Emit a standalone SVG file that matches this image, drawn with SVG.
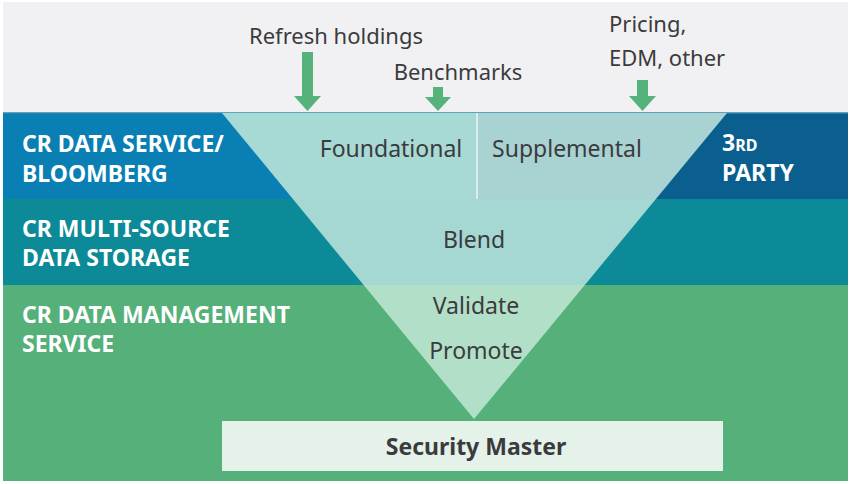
<svg xmlns="http://www.w3.org/2000/svg" width="850" height="484" viewBox="0 0 850 484">
<style>
.lbl{font-family:"Noto Sans","Open Sans","Liberation Sans",sans-serif;font-size:22px;fill:#3b3b3d;}
.fl{font-family:"Noto Sans","Open Sans","Liberation Sans",sans-serif;font-size:23px;fill:#3b3b3d;text-anchor:middle;}
.band{font-family:"Noto Sans","Open Sans","Liberation Sans",sans-serif;font-size:23px;font-weight:bold;fill:#ffffff;}
.sm{font-family:"Noto Sans","Open Sans","Liberation Sans",sans-serif;font-size:23px;font-weight:bold;fill:#3b3b3d;text-anchor:middle;}
.arrow{fill:#55b27a;}
</style>
<defs>
<clipPath id="funnel"><polygon points="222,113 727,113 474,419"/></clipPath>
</defs>
<rect x="0" y="0" width="850" height="484" fill="#ffffff"/>
<g id="background">
<rect x="3" y="2" width="845" height="111" fill="#f1f1f3"/>
<rect x="3" y="113" width="845" height="86" fill="#0a7fb4"/>
<rect x="600" y="113" width="248" height="86" fill="#0b5f8f"/>
<rect x="3" y="199" width="845" height="86" fill="#0d8a98"/>
<rect x="3" y="285" width="845" height="196" fill="#56b07a"/>
<line x1="3" y1="113" x2="848" y2="113" stroke="#2f86ad" stroke-width="1.5"/>
</g>
<g id="funnel-shape" clip-path="url(#funnel)">
<rect x="200" y="113" width="277" height="86" fill="#a7d9d5"/>
<rect x="477" y="113" width="260" height="86" fill="#a9d2d3"/>
<rect x="200" y="199" width="540" height="86" fill="#a6d8d3"/>
<rect x="200" y="285" width="540" height="140" fill="#b2dfc8"/>
<line x1="477" y1="113" x2="477" y2="199" stroke="#d9eeec" stroke-width="2"/>
</g>
<g id="band-labels">
<text class="band" x="22" y="152">CR DATA SERVICE/</text>
<text class="band" x="22" y="182">BLOOMBERG</text>
<text class="band" x="22" y="237">CR MULTI-SOURCE</text>
<text class="band" x="22" y="266">DATA STORAGE</text>
<text class="band" x="22" y="323">CR DATA MANAGEMENT</text>
<text class="band" x="22" y="352">SERVICE</text>
<text class="band" x="722" y="151">3<tspan font-size="16">RD</tspan></text>
<text class="band" x="722" y="181">PARTY</text>
</g>
<g id="funnel-labels">
<text class="fl" x="391" y="157">Foundational</text>
<text class="fl" x="567" y="157">Supplemental</text>
<text class="fl" x="474" y="248">Blend</text>
<text class="fl" x="476" y="314">Validate</text>
<text class="fl" x="476" y="359">Promote</text>
</g>
<g id="security-master">
<rect x="222" y="421" width="501" height="50" fill="#e4f2ea"/>
<text class="sm" x="476" y="455">Security Master</text>
</g>
<g id="inputs">
<text class="lbl" x="336" y="44" text-anchor="middle">Refresh holdings</text>
<text class="lbl" x="458" y="80" text-anchor="middle">Benchmarks</text>
<text class="lbl" x="609" y="32">Pricing,</text>
<text class="lbl" x="609" y="66">EDM, other</text>
</g>
<g id="connectors">
<polygon class="arrow" points="302,52 313,52 313,96 321,96 307.5,111 294,96 302,96"/>
<polygon class="arrow" points="433,87 443,87 443,97 451,97 438,111 425,97 433,97"/>
<polygon class="arrow" points="637,80 648,80 648,96 656,96 642.5,111 629,96 637,96"/>
</g>
</svg>
